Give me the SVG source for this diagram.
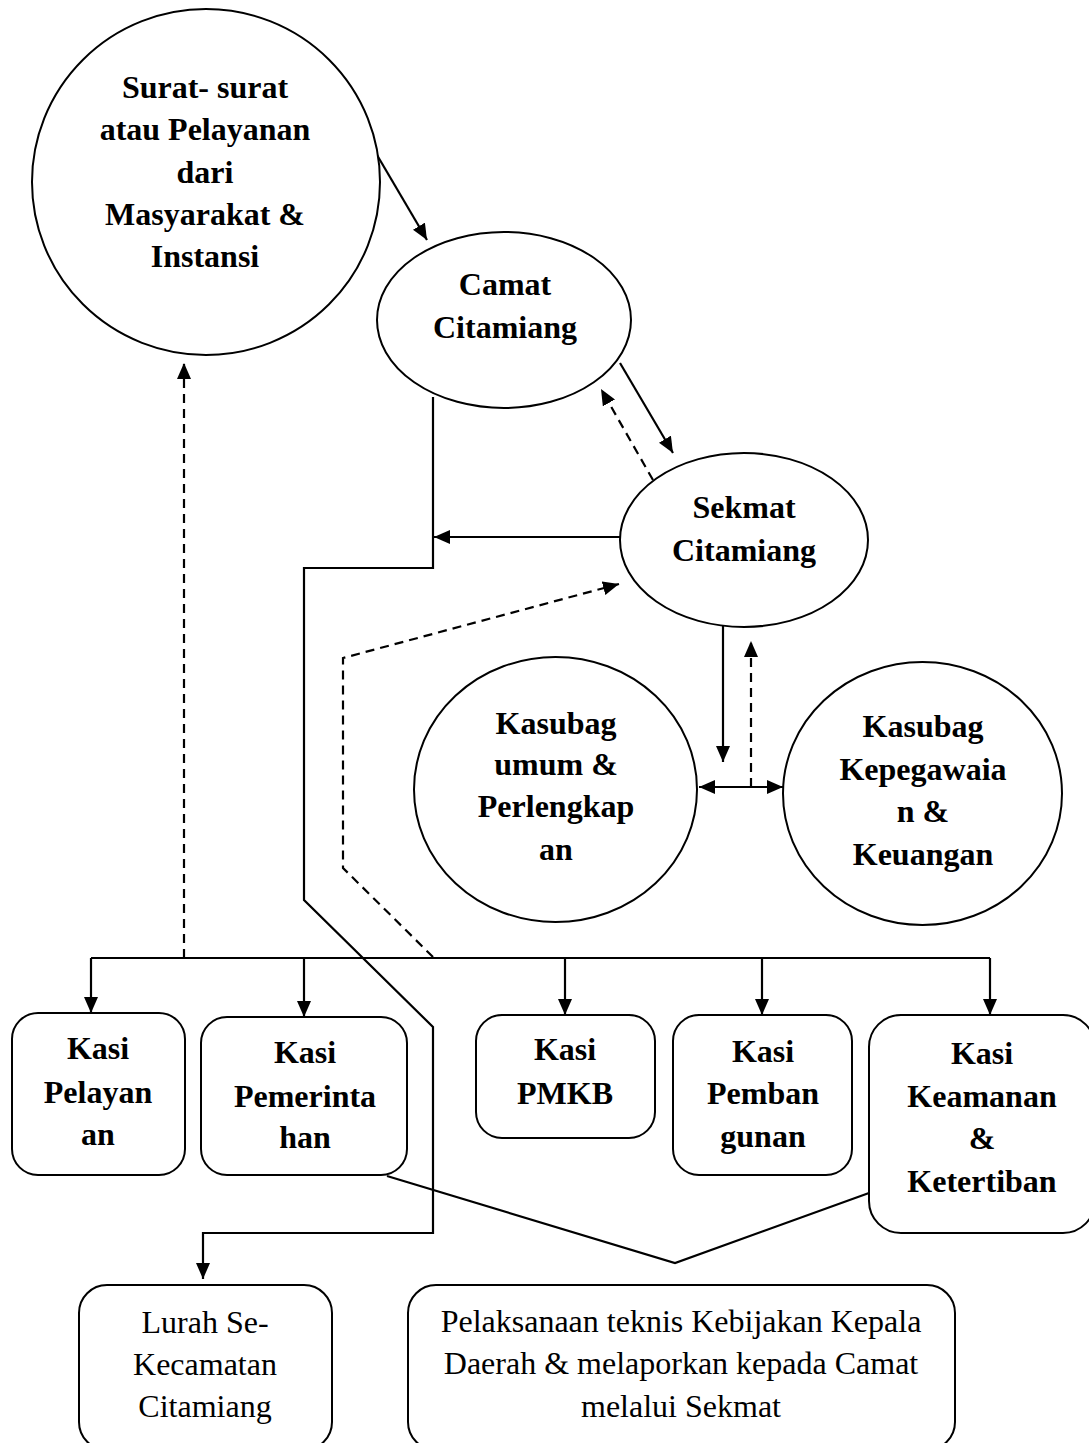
<svg xmlns="http://www.w3.org/2000/svg" width="1089" height="1443" viewBox="0 0 1089 1443">
<defs>
<style>
.shape{fill:#fff;stroke:#000;stroke-width:2}
.t{font-family:"Liberation Serif","Times New Roman",serif;font-size:32px;font-weight:bold;text-anchor:middle;fill:#000}
.r{font-family:"Liberation Serif","Times New Roman",serif;font-size:32px;font-weight:normal;text-anchor:middle;fill:#000}
.c{fill:none;stroke:#000;stroke-width:2.2}
.d{fill:none;stroke:#000;stroke-width:2.2;stroke-dasharray:9 6}
.a{marker-end:url(#ah)}
</style>
<marker id="ah" viewBox="0 0 16 14" markerWidth="16" markerHeight="14" refX="16" refY="7" orient="auto-start-reverse" markerUnits="userSpaceOnUse">
<path d="M0,0 L16,7 L0,14 z" fill="#000"/>
</marker>
</defs>

<g id="connectors">
<line class="c a" x1="377" y1="155" x2="427" y2="240"/>
<line class="c a" x1="620" y1="363" x2="673" y2="453"/>
<line class="d a" x1="653" y1="480" x2="601" y2="389"/>
<line class="c a" x1="620" y1="537" x2="434" y2="537"/>
<path class="c a" d="M433,397 V568 H304 V900 L433,1027 V1233 H203 V1279"/>
<path class="d a" d="M433,957 L343,868 V658 L619,584"/>
<path class="c" d="M91,958 H990"/>
<line class="c a" x1="91" y1="958" x2="91" y2="1013"/>
<line class="c a" x1="304" y1="958" x2="304" y2="1017"/>
<line class="c a" x1="565" y1="958" x2="565" y2="1015"/>
<line class="c a" x1="762" y1="958" x2="762" y2="1015"/>
<line class="c a" x1="990" y1="958" x2="990" y2="1015"/>
<line class="d a" x1="184" y1="958" x2="184" y2="363"/>
<line class="c a" x1="723" y1="626" x2="723" y2="762"/>
<line class="d a" x1="751" y1="787" x2="751" y2="641"/>
<line class="c" x1="699" y1="787" x2="783" y2="787" marker-start="url(#ah)" marker-end="url(#ah)"/>
<path class="c" d="M387,1176 L675,1263 L869,1193"/>
</g>

<g id="node-surat">
<ellipse class="shape" cx="206" cy="182" rx="174" ry="173"/>
<text class="t" x="205" y="98">Surat- surat</text>
<text class="t" x="205" y="140">atau Pelayanan</text>
<text class="t" x="205" y="183">dari</text>
<text class="t" x="205" y="225">Masyarakat &amp;</text>
<text class="t" x="205" y="267">Instansi</text>
</g>

<g id="node-camat">
<ellipse class="shape" cx="504" cy="320" rx="127" ry="88"/>
<text class="t" x="505" y="295">Camat</text>
<text class="t" x="505" y="338">Citamiang</text>
</g>

<g id="node-sekmat">
<ellipse class="shape" cx="744" cy="540" rx="124" ry="87"/>
<text class="t" x="744" y="518">Sekmat</text>
<text class="t" x="744" y="561">Citamiang</text>
</g>

<g id="node-kasubag-umum">
<ellipse class="shape" cx="555.5" cy="789.5" rx="141.5" ry="132.5"/>
<text class="t" x="556" y="734">Kasubag</text>
<text class="t" x="556" y="775">umum &amp;</text>
<text class="t" x="556" y="817">Perlengkap</text>
<text class="t" x="556" y="860">an</text>
</g>

<g id="node-kasubag-kepegawaian">
<ellipse class="shape" cx="922.5" cy="793.5" rx="139.5" ry="131.5"/>
<text class="t" x="923" y="737">Kasubag</text>
<text class="t" x="923" y="780">Kepegawaia</text>
<text class="t" x="923" y="822">n &amp;</text>
<text class="t" x="923" y="865">Keuangan</text>
</g>

<g id="node-kasi-pelayanan">
<rect class="shape" x="12" y="1013" width="173" height="162" rx="26"/>
<text class="t" x="98" y="1059">Kasi</text>
<text class="t" x="98" y="1103">Pelayan</text>
<text class="t" x="98" y="1145">an</text>
</g>

<g id="node-kasi-pemerintahan">
<rect class="shape" x="201" y="1017" width="206" height="158" rx="26"/>
<text class="t" x="305" y="1063">Kasi</text>
<text class="t" x="305" y="1107">Pemerinta</text>
<text class="t" x="305" y="1148">han</text>
</g>

<g id="node-kasi-pmkb">
<rect class="shape" x="476" y="1015" width="179" height="123" rx="26"/>
<text class="t" x="565" y="1060">Kasi</text>
<text class="t" x="565" y="1104">PMKB</text>
</g>

<g id="node-kasi-pembangunan">
<rect class="shape" x="673" y="1015" width="179" height="160" rx="26"/>
<text class="t" x="763" y="1062">Kasi</text>
<text class="t" x="763" y="1104">Pemban</text>
<text class="t" x="763" y="1147">gunan</text>
</g>

<g id="node-kasi-keamanan">
<rect class="shape" x="869" y="1015" width="226" height="218" rx="32"/>
<text class="t" x="982" y="1064">Kasi</text>
<text class="t" x="982" y="1107">Keamanan</text>
<text class="t" x="982" y="1149">&amp;</text>
<text class="t" x="982" y="1192">Ketertiban</text>
</g>

<g id="node-lurah">
<rect class="shape" x="79" y="1285" width="253" height="165" rx="28"/>
<text class="r" x="205" y="1333">Lurah Se-</text>
<text class="r" x="205" y="1375">Kecamatan</text>
<text class="r" x="205" y="1417">Citamiang</text>
</g>

<g id="node-pelaksanaan">
<rect class="shape" x="408" y="1285" width="547" height="165" rx="28"/>
<text class="r" x="681" y="1332">Pelaksanaan teknis Kebijakan Kepala</text>
<text class="r" x="681" y="1374">Daerah &amp; melaporkan kepada Camat</text>
<text class="r" x="681" y="1417">melalui Sekmat</text>
</g>
</svg>
